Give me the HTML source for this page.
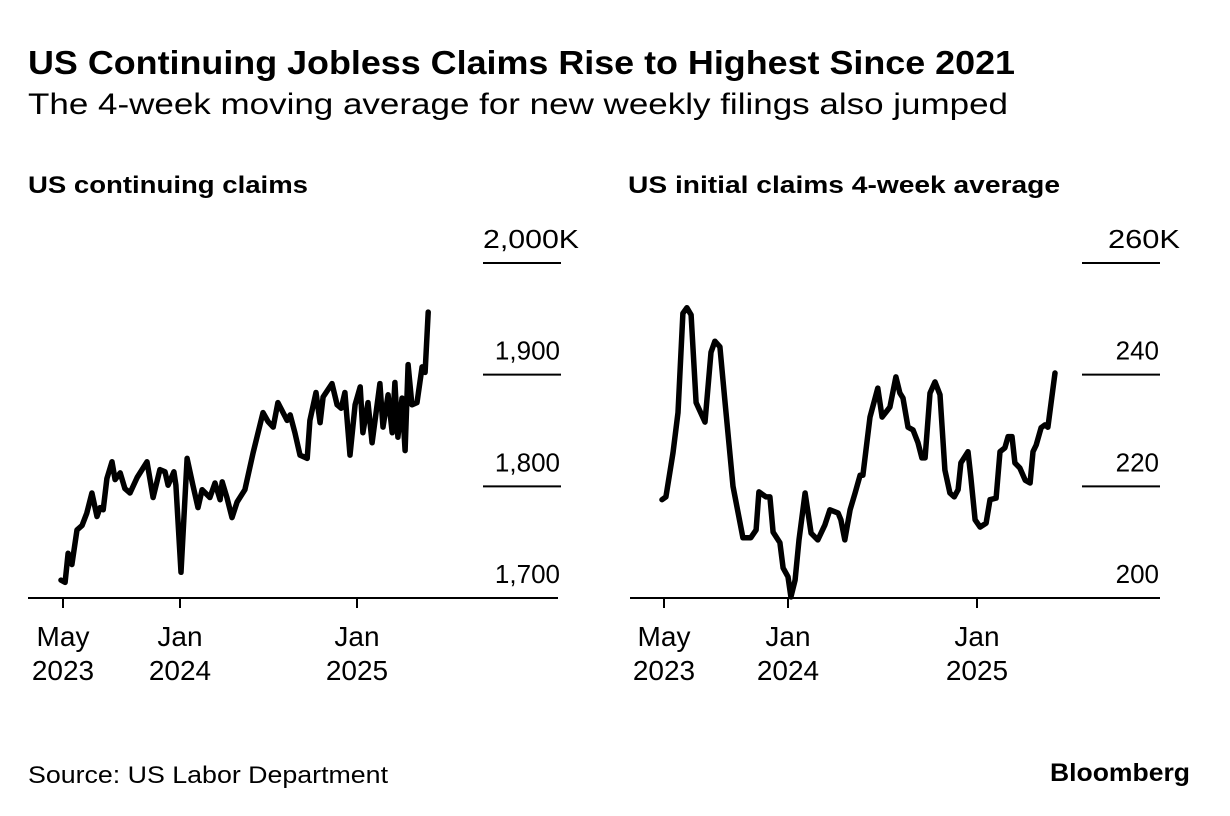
<!DOCTYPE html>
<html><head><meta charset="utf-8"><style>
body{margin:0;background:#fff;width:1230px;height:816px;overflow:hidden;font-family:"Liberation Sans",sans-serif;color:#000}
svg{position:absolute;left:0;top:0}
</style></head><body>
<svg id="chart" width="1230" height="816">
<text x="28" y="74" font-size="33" font-weight="bold" textLength="987" lengthAdjust="spacingAndGlyphs">US Continuing Jobless Claims Rise to Highest Since 2021</text>
<text x="28" y="114" font-size="30" textLength="980" lengthAdjust="spacingAndGlyphs">The 4-week moving average for new weekly filings also jumped</text>
<text x="28" y="193" font-size="24" font-weight="bold" textLength="280" lengthAdjust="spacingAndGlyphs">US continuing claims</text>
<text x="628" y="193" font-size="24" font-weight="bold" textLength="432" lengthAdjust="spacingAndGlyphs">US initial claims 4-week average</text>
<text x="28" y="783" font-size="24" textLength="360" lengthAdjust="spacingAndGlyphs">Source: US Labor Department</text>
<text x="1050" y="781" font-size="25" font-weight="bold" textLength="140" lengthAdjust="spacingAndGlyphs">Bloomberg</text>
<g id="left"></g><g id="right"></g>
</svg>
<script>
const leftWeeks=[0,1.2,2.1,3.2,4.7,6.2,7.6,9.1,10.6,11.5,12.4,13.5,15,15.9,17.4,18.8,20.3,22.4,25.3,27.1,29.1,30.6,31.5,33.2,33.8,35.3,37.1,38.8,40.3,41.5,43.8,45.3,46.8,47.4,48.8,50.3,51.8,54.1,56.5,59.4,60.9,62.4,63.8,66.5,67.4,68.8,70.3,72.4,73.2,75,76.2,77.1,79.7,81.2,82.4,83.5,85,86.5,88,88.8,90.3,91.5,93.8,94.7,96.2,97.4,98.2,99.1,100.3,101.2,102.1,103.2,104.7,106.2,107.1,108];
const leftValues=[1716,1714,1740,1730,1761,1765,1776,1794,1773,1781,1779,1807,1822,1806,1812,1798,1794,1808,1822,1790,1815,1813,1801,1813,1801,1723,1825,1801,1781,1797,1790,1803,1788,1804,1790,1772,1786,1797,1830,1866,1858,1853,1875,1859,1864,1848,1828,1825,1859,1884,1857,1880,1892,1873,1870,1884,1828,1873,1889,1848,1875,1839,1892,1853,1882,1848,1893,1844,1879,1832,1909,1873,1875,1907,1902,1956];
const leftTicks=[2000,1900,1800,1700];
const leftTickLabels=["2,000K","1,900","1,800","1,700"];
const rightWeeks=[0,1.1,3.1,4.5,5.9,7,8.2,9.6,12.1,13.8,14.9,16.3,17.7,20,22.8,25,26.5,27.3,29.3,30.4,31.3,33.2,34.1,35.5,36.3,37.5,38.6,40.3,42,43.9,44.8,45.9,47.3,49.6,50.4,51.5,53,54.4,55.8,56.6,58.6,60.8,62,64.2,65.9,67,67.9,69.3,70.7,72.1,73.2,74.1,75.5,76.9,78.3,79.7,81.1,82.3,83.4,84.2,86.2,87,88.2,89.6,91.3,92.4,94.1,95.2,96.6,97.5,98.6,99.4,100.8,102.3,103.7,104.5,105.4,106.8,107.9,108.7,110.7];
const rightValues=[217.6,218.1,226,233.2,251,252,250.7,235,231.5,244,246,245,235.5,220,210.8,210.8,212.2,219,218.1,218.1,211.8,209.9,205.4,203.8,200.2,203.2,210.4,218.8,211.6,210.4,211.6,213.1,215.8,215.2,214,210.4,215.8,218.8,222,222,232.4,237.6,232.4,234.2,239.6,236.7,235.8,230.6,230.1,227.8,225.1,225.1,236.7,238.7,236.4,222.9,218.8,218.1,219.4,224.2,226.2,221.7,214,212.7,213.4,217.6,217.9,226.2,226.9,228.9,228.9,224.2,223.3,221.1,220.6,226.2,227.4,230.5,231,230.6,240.3];
const rightTicks=[260,240,220,200];
const rightTickLabels=["260K","240","220","200"];
const xTickWeeks=[0,35,87];
const xTickTop=["May","Jan","Jan"];
const xTickBottom=["2023","2024","2025"];
const NS="http://www.w3.org/2000/svg";
function mk(p,t,a){const e=document.createElementNS(NS,t);for(const k in a)e.setAttribute(k,a[k]);p.appendChild(e);return e;}
function panel(g,cfg){
  const xs=w=>cfg.x0+w*cfg.pxw;
  const ys=v=>cfg.yb-(v-cfg.vmin)/(cfg.vmax-cfg.vmin)*(cfg.yb-cfg.yt);
  cfg.ticks.forEach((t,i)=>{
    const y=ys(t);
    if(i<cfg.ticks.length-1){const l=mk(g,'line',{x1:cfg.gx,x2:cfg.gx+78,y1:y,y2:y,stroke:'#000','stroke-width':2});
    
    }
    const lab=cfg.labels[i];
    let tx;
    if(lab.endsWith('K')){
      tx=mk(g,'text',{x:cfg.kx,y:y-15,'font-size':26,textLength:cfg.kw,lengthAdjust:'spacingAndGlyphs'});
    } else {
      tx=mk(g,'text',{x:cfg.gx+77,y:y-15,'font-size':26,'text-anchor':'end'});
    }
    tx.textContent=lab;
    
    
  });
  const ax=mk(g,'line',{x1:cfg.ax1,x2:cfg.ax2,y1:cfg.yb,y2:cfg.yb,stroke:'#000','stroke-width':2});
  
  
  xTickWeeks.forEach((w,i)=>{
    const x=cfg.tickX[i];
    const t=mk(g,'line',{x1:x,x2:x,y1:cfg.yb,y2:cfg.yb+10,stroke:'#000','stroke-width':2});
    
    
    const a=mk(g,'text',{x:x,y:646,'font-size':28,'text-anchor':'middle'});a.textContent=xTickTop[i];
    
    
    const b=mk(g,'text',{x:x,y:680,'font-size':28,'text-anchor':'middle'});b.textContent=xTickBottom[i];
    
    
  });
  const d=cfg.weeks.map((w,i)=>(i?'L':'M')+xs(w).toFixed(1)+','+ys(cfg.values[i]).toFixed(1)).join('');
  const p=mk(g,'path',{d:d,fill:'none',stroke:'#000','stroke-width':5.5,'stroke-linejoin':'round','stroke-linecap':'round'});
  
  
}
panel(document.getElementById('left'),{x0:61,pxw:3.4,yb:598,yt:263,vmin:1700,vmax:2000,gx:483,kx:483,kw:96,ax1:28,ax2:558,ticks:leftTicks,labels:leftTickLabels,weeks:leftWeeks,values:leftValues,tickX:[63,180,357],name:'continuing-claims-line'});
panel(document.getElementById('right'),{x0:662,pxw:3.55,yb:598,yt:263,vmin:200,vmax:260,gx:1082,kx:1108,kw:72,ax1:630,ax2:1160,ticks:rightTicks,labels:rightTickLabels,weeks:rightWeeks,values:rightValues,tickX:[664,788,977],name:'initial-claims-line'});
</script>
</body></html>
